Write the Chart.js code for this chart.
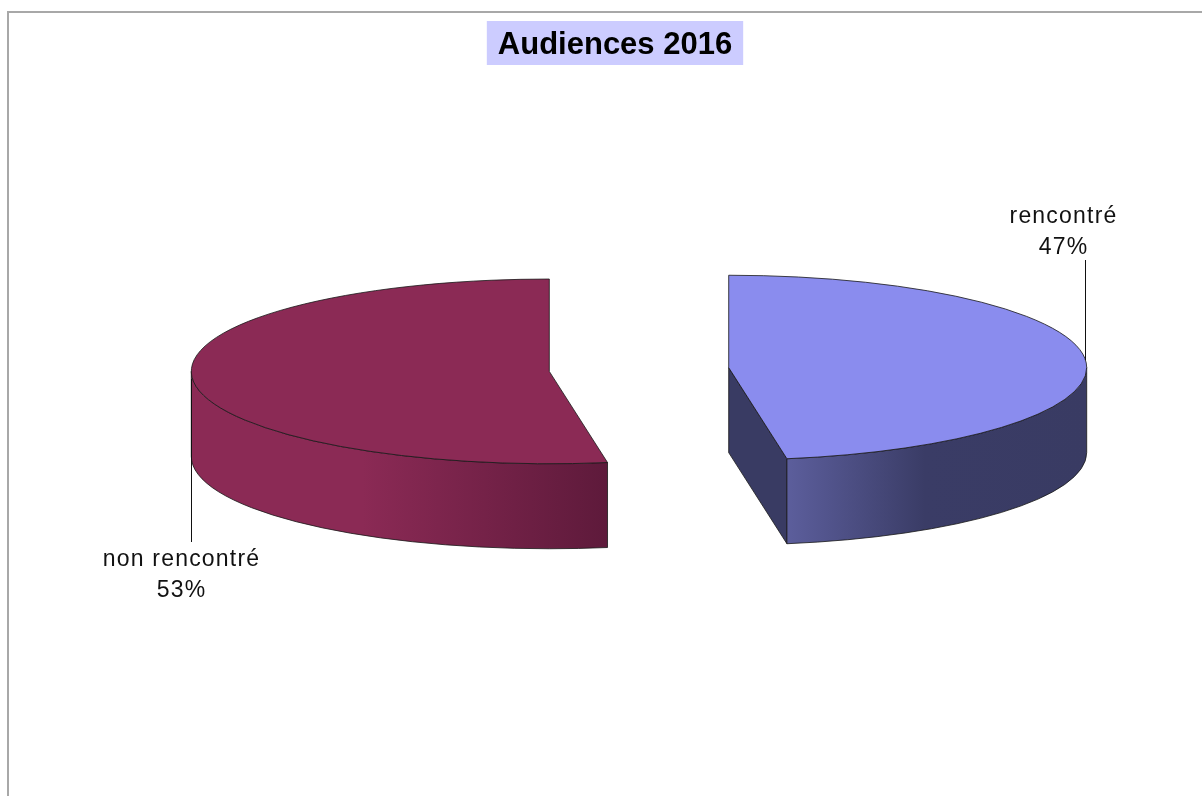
<!DOCTYPE html>
<html>
<head>
<meta charset="utf-8">
<script src="https://cdn.jsdelivr.net/npm/chart.js@4.4.1/dist/chart.umd.min.js"></script>
<style>
  html, body { margin: 0; padding: 0; background: #fff; }
  #wrap { position: relative; width: 1202px; height: 796px; }
</style>
</head>
<body>
<div id="wrap"><canvas id="chart"></canvas></div>
<script>
'use strict';

// data
const chartTitle = 'Audiences 2016';
const categories = ['rencontré', 'non rencontré'];
const shares = [47.4, 52.6];

// styles
const topColors = ['#8a8cee', '#8b2a55'];
const cutColors = ['#393b63', '#5e1a3b'];
const sideStops = [
  [[0, '#5c5e9c'], [0.46, '#3a3c66'], [1, '#393b63']],
  [[0, '#8b2a55'], [0.41, '#8b2a55'], [1, '#5e1a3b']]
];
const leaderEnds = [260, 542];
const labelShift = [-22, -10];

const SQUASH = 0.258;
const DEPTH = 85;
const EXPLODE = 90;
const OUTLINE = 'rgba(25, 25, 25, 0.8)';
const LABEL_FONT = '23px "Liberation Sans", Arial, sans-serif';

// where the slice really sits once tilted and pulled out
const geom = (arc) => {
  const mid = (arc.startAngle + arc.endAngle) / 2;
  return {
    mid,
    cx: arc.x + Math.cos(mid) * EXPLODE,
    cy: arc.y + Math.sin(mid) * EXPLODE * SQUASH,
    rx: arc.outerRadius,
    ry: arc.outerRadius * SQUASH
  };
};

const pie3d = {
  id: 'pie3d',

  beforeDraw(chart) {
    const ctx = chart.ctx;
    ctx.save();
    ctx.fillStyle = '#a8a8a8';
    ctx.fillRect(7, 11, 2, chart.height);
    ctx.fillRect(7, 11, chart.width, 2);

    ctx.font = 'bold 31px "Liberation Sans", Arial, sans-serif';
    const w = ctx.measureText(chartTitle).width;
    ctx.fillStyle = '#ccccff';
    ctx.fillRect(615 - w / 2 - 11, 21, w + 22, 44);
    ctx.fillStyle = '#000';
    ctx.textAlign = 'center';
    ctx.fillText(chartTitle, 615, 54);
    ctx.restore();
  },

  beforeDatasetsDraw(chart) {
    const ctx = chart.ctx;
    const arcs = chart.getDatasetMeta(0).data;

    arcs.forEach((arc, i) => {
      const g = geom(arc);
      const s = arc.startAngle, e = arc.endAngle;

      ctx.save();
      ctx.lineWidth = 1;
      ctx.strokeStyle = OUTLINE;

      // flat cut faces turned to the viewer
      const cut = (a) => {
        const px = g.cx + g.rx * Math.cos(a), py = g.cy + g.ry * Math.sin(a);
        ctx.beginPath();
        ctx.moveTo(g.cx, g.cy);
        ctx.lineTo(px, py);
        ctx.lineTo(px, py + DEPTH);
        ctx.lineTo(g.cx, g.cy + DEPTH);
        ctx.closePath();
        ctx.fillStyle = cutColors[i];
        ctx.fill();
        ctx.stroke();
      };
      if (Math.cos(e) > 0) cut(e);
      if (Math.cos(s) < 0) cut(s);

      // curved rim, front half only
      for (const k of [-2 * Math.PI, 0, 2 * Math.PI]) {
        const lo = Math.max(s, k), hi = Math.min(e, k + Math.PI);
        if (hi <= lo) continue;
        const xl = g.cx + g.rx * Math.cos(hi), xr = g.cx + g.rx * Math.cos(lo);
        const grad = ctx.createLinearGradient(xl, 0, xr, 0);
        sideStops[i].forEach(([p, c]) => grad.addColorStop(p, c));
        ctx.beginPath();
        ctx.ellipse(g.cx, g.cy, g.rx, g.ry, 0, lo, hi, false);
        ctx.ellipse(g.cx, g.cy + DEPTH, g.rx, g.ry, 0, hi, lo, true);
        ctx.closePath();
        ctx.fillStyle = grad;
        ctx.fill();
        ctx.stroke();
      }

      // top face, drawn by the arc element itself under a vertical squash
      ctx.save();
      ctx.translate(g.cx, g.cy);
      ctx.scale(1, SQUASH);
      ctx.translate(-arc.x, -arc.y);
      arc.draw(ctx);
      ctx.restore();

      ctx.beginPath();
      ctx.moveTo(g.cx, g.cy);
      ctx.ellipse(g.cx, g.cy, g.rx, g.ry, 0, s, e, false);
      ctx.closePath();
      ctx.stroke();
      ctx.restore();
    });
    return false;
  },

  afterDraw(chart) {
    const ctx = chart.ctx;
    const total = shares.reduce((a, b) => a + b, 0);

    ctx.save();
    ctx.font = LABEL_FONT;
    ctx.letterSpacing = '1.2px';
    ctx.textAlign = 'center';
    ctx.fillStyle = '#111';
    ctx.strokeStyle = '#111';
    ctx.lineWidth = 1;

    chart.getDatasetMeta(0).data.forEach((arc, i) => {
      const g = geom(arc);
      const px = Math.round(g.cx + g.rx * Math.cos(g.mid)) - 0.5;
      const py = g.cy + g.ry * Math.sin(g.mid);
      const above = Math.sin(g.mid) < 0;
      const end = leaderEnds[i];

      ctx.beginPath();
      ctx.moveTo(px, py);
      ctx.lineTo(px, end);
      ctx.stroke();

      const lines = [categories[i], Math.round(shares[i] / total * 100) + '%'];
      const y0 = above ? end - 37 : end + 24;
      lines.forEach((t, j) => ctx.fillText(t, px + labelShift[i], y0 + j * 31));
    });
    ctx.restore();
  }
};

new Chart(document.getElementById('chart'), {
  type: 'pie',
  data: {
    labels: categories,
    datasets: [{
      data: shares,
      backgroundColor: topColors,
      borderWidth: 0,
      radius: 358
    }]
  },
  options: {
    responsive: true,
    maintainAspectRatio: false,
    animation: false,
    events: [],
    radius: 358,
    layout: { padding: { left: 76, right: 0, top: 0, bottom: 57 } },
    plugins: {
      legend: { display: false },
      tooltip: { enabled: false },
      title: { display: false }
    }
  },
  plugins: [pie3d]
});
</script>
</body>
</html>
